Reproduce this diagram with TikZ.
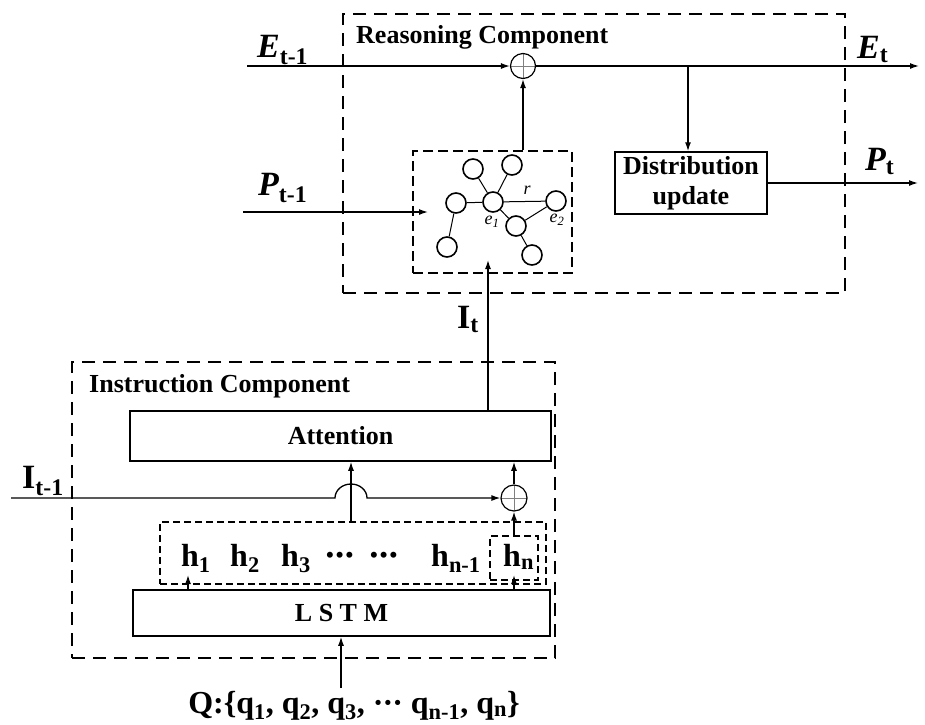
\documentclass[tikz,border=0pt]{standalone}
\usepackage{fontspec}
\setmainfont{Liberation Serif}
\usetikzlibrary{positioning,arrows.meta,calc}

\begin{document}
\begin{tikzpicture}[
x=1pt, y=-1pt,
    arr/.style={-{Latex[length=9pt,width=6pt]}, line width=1.3pt},
    bigbox/.style={draw, line width=2pt, dash pattern=on 13pt off 8pt, inner sep=0pt},
    midbox/.style={draw, line width=1.6pt, dash pattern=on 10pt off 5pt, inner sep=0pt},
    smallbox/.style={draw, line width=1.1pt, dash pattern=on 7pt off 4pt, inner sep=0pt},
    block/.style={draw, line width=1.5pt, inner sep=0pt, align=center,
        font=\fontsize{26}{30}\selectfont\bfseries},
    title/.style={anchor=base west, inner sep=0pt, font=\fontsize{26}{30}\selectfont\bfseries},
    var/.style={anchor=base west, inner sep=0pt, font=\fontsize{34}{38}\selectfont\bfseries},
    hid/.style={anchor=base west, inner sep=0pt, font=\fontsize{32}{36}\selectfont\bfseries},
    ent/.style={circle, draw, line width=1.6pt, minimum size=20pt, inner sep=0pt},
    elab/.style={inner sep=0pt, font=\fontsize{18}{20}\selectfont\itshape},
    oplus/.style={
        circle,
        draw,
        line width=1.2pt,
        minimum size=25pt,
        inner sep=0pt,
        path picture={\draw[line width=0.6pt, gray]
            (path picture bounding box.north) -- (path picture bounding box.south)
            (path picture bounding box.west) -- (path picture bounding box.east);}
    }
]
\useasboundingbox (0,0) rectangle (925,724);

% Reasoning component
\node[bigbox, minimum width=502pt, minimum height=279pt] (reason) at (594,153.5) {};
\node[title] (reasontitle) at (356,43) {Reasoning Component};
\node[oplus] (plusE) at (523,66) {};
\node[block, minimum width=152pt, minimum height=62pt] (dist) at (691,183) {Distribution\\update};
\node[midbox, minimum width=159pt, minimum height=122pt] (kg) at (492.5,212) {};

% Entities of the graph
\node[ent] (ea) at (473,169) {};
\node[ent] (eb) at (512,165) {};
\node[ent] (e1) at (493,202) {};
\node[ent] (ec) at (456,203) {};
\node[ent] (e2) at (556,201) {};
\node[ent] (ed) at (516,226) {};
\node[ent] (ee) at (447,247) {};
\node[ent] (ef) at (532,255) {};
\node[elab] (e1lab) at (492,222) {e\textsubscript{1}};
\node[elab] (e2lab) at (557,220) {e\textsubscript{2}};
\node[elab] (rlab) at (527,190) {r};

\draw[line width=1pt] (ea) -- (e1);
\draw[line width=1pt] (eb) -- (e1);
\draw[line width=1pt] (ec) -- (e1);
\draw[line width=1pt] (ec) -- (ee);
\draw[line width=1pt] (e1) -- (e2);
\draw[line width=1pt] (e1) -- (ed);
\draw[line width=1pt] (ed) -- (e2);
\draw[line width=1pt] (ed) -- (ef);

% Entity and probability flows
\node[var] (Eprev) at (257,57) {{\itshape E}\textsubscript{t-1}};
\node[var] (Enext) at (857,58) {{\itshape E}\textsubscript{t}};
\node[var] (Pprev) at (258,195) {{\itshape P}\textsubscript{t-1}};
\node[var] (Pnext) at (865,170) {{\itshape P}\textsubscript{t}};
\coordinate (Ein) at (247,66);
\coordinate (Eout) at (919,66);
\coordinate (Ebr) at (688,66);
\coordinate (Pin) at (243,212);
\coordinate (Pend) at (428,212);
\coordinate (Pout) at (918,183);

\draw[arr] (Ein) -- (plusE);
\draw[arr] (plusE) -- (Eout);
\draw[arr] (Ebr) -- (Ebr |- dist.north);
\draw[arr] (Pin) -- (Pend);
\draw[arr] (dist.east) -- (Pout);
\draw[arr] (kg.north -| plusE) -- (plusE.south);

% Instruction component
\node[bigbox, minimum width=483pt, minimum height=296pt] (instr) at (313.5,510) {};
\node[title] (instrtitle) at (89,392) {Instruction Component};
\node[block, minimum width=421pt, minimum height=50pt] (att) at (340.5,436) {Attention};
\node[oplus, minimum size=26pt] (plusI) at (514,498) {};
\node[smallbox, minimum width=386pt, minimum height=62pt] (hrow) at (353,553) {};
\node[smallbox, minimum width=48pt, minimum height=44pt] (hlast) at (514,558) {};
\node[block, minimum width=417pt, minimum height=46pt] (lstm) at (341.5,613) {L S T M};

\node[hid] (h1) at (181,566) {h\textsubscript{1}};
\node[hid] (h2) at (230,566) {h\textsubscript{2}};
\node[hid] (h3) at (281,566) {h\textsubscript{3}};
\node[hid, font=\fontsize{22}{24}\selectfont\bfseries] (dotsa) at (326,562) {\textbullet\kern2pt\textbullet\kern2pt\textbullet};
\node[hid, font=\fontsize{22}{24}\selectfont\bfseries] (dotsb) at (370,562) {\textbullet\kern2pt\textbullet\kern2pt\textbullet};
\node[hid] (hm) at (431,566) {h\textsubscript{n-1}};
\node[hid] (hn) at (503,566) {h\textsubscript{n}};

\node[var] (It) at (457,328) {I\textsubscript{t}};
\node[var] (Iprev) at (22,488) {I\textsubscript{t-1}};
\node[hid, anchor=base] (Q) at (354,713)
    {Q:\{q\textsubscript{1}, q\textsubscript{2}, q\textsubscript{3}, \textperiodcentered\kern-1pt\textperiodcentered\kern-1pt\textperiodcentered{} q\textsubscript{n-1}, q\textsubscript{n}\}};

\coordinate (Iin) at (11,498);
\coordinate (hump) at (351,498);
\coordinate (itop) at (488,260);
\coordinate (h1in) at (188,575);
\coordinate (hnin) at (514,575);
\coordinate (qtop) at (341,688);

% Instruction flows
\draw[arr] (Iin) -- ($(hump)+(-16,0)$) arc[start angle=180, end angle=0, x radius=16pt, y radius=14pt] -- (plusI);
\draw[arr] (hrow.north -| hump) -- (att.south -| hump);
\draw[arr] (plusI) -- (att.south -| plusI);
\draw[arr] (hlast.north) -- (plusI.south);
\draw[arr] (lstm.north -| h1in) -- (h1in);
\draw[arr] (lstm.north -| hnin) -- (hnin);
\draw[arr] (qtop) -- (lstm.south -| qtop);
\draw[arr] (att.north -| itop) -- (itop);
\end{tikzpicture}
\end{document}
